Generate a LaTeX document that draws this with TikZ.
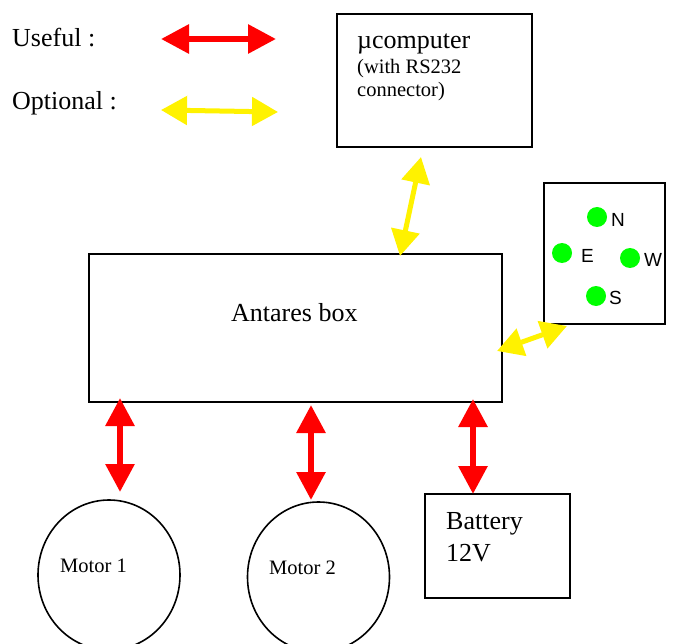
\documentclass[tikz,border=0pt]{standalone}
\usepackage{fontspec}
\setmainfont{Liberation Serif}
\setsansfont{Liberation Sans}
\usetikzlibrary{arrows.meta,shapes.geometric,positioning}

\begin{document}
\begin{tikzpicture}[x=1pt,y=-1pt,
  box/.style={draw,line width=1.6pt,rectangle,inner sep=0pt},
  motor/.style={draw,line width=1.6pt,ellipse,inner sep=0pt,minimum width=142pt,minimum height=150pt},
  bigtxt/.style={font=\fontsize{26}{30}\selectfont,inner sep=0pt,anchor=base west},
  smalltxt/.style={font=\fontsize{20.5}{24}\selectfont,inner sep=0pt,anchor=base west},
  dirtxt/.style={font=\sffamily\fontsize{19}{22}\selectfont,inner sep=0pt,anchor=base west},
  led/.style={circle,fill=green,inner sep=0pt,minimum size=20pt},
  useful/.style={red,line width=6pt,{Triangle[length=28pt,width=28pt]}-{Triangle[length=28pt,width=28pt]}},
  optional/.style={yellow,line width=5pt,{Triangle[length=26pt,width=28pt]}-{Triangle[length=26pt,width=28pt]}}
]
\useasboundingbox (0,0) rectangle (674,644);
\clip (0,0) rectangle (674,644);

% the legend
\node[bigtxt] (usefultxt) at (12,47) {Useful :};
\node[bigtxt] (optionaltxt) at (12,110) {Optional :};
\coordinate (usefulL) at (161,39);
\coordinate (usefulR) at (276,39);
\coordinate (optL) at (161,110);
\coordinate (optR) at (278,112);

% the boxes
\node[box,minimum width=195pt,minimum height=133pt] (micro) at (434.5,80.5) {};
\node[box,minimum width=413pt,minimum height=148pt] (antares) at (295.5,328) {};
\node[box,minimum width=121pt,minimum height=141pt] (compass) at (604.5,253.5) {};
\node[box,minimum width=145pt,minimum height=104pt] (battery) at (497.5,546) {};
\node[motor] (motorA) at (109,575) {};
\node[motor] (motorB) at (318.5,577) {};

% the texts
\node[bigtxt] (microtxt) at (357,49) {µcomputer};
\node[smalltxt] (microtxtA) at (357,74) {(with RS232};
\node[smalltxt] (microtxtB) at (357,97) {connector)};
\node[bigtxt] (antarestxt) at (231,321) {Antares box};
\node[bigtxt] (batterytxt) at (446,529) {Battery};
\node[bigtxt] (batterytxtB) at (446,561) {12V};
\node[smalltxt] (motorAtxt) at (60,572) {Motor 1};
\node[smalltxt] (motorBtxt) at (269,574) {Motor 2};

% the compass
\node[led] (ledN) at (597,217) {};
\node[led] (ledE) at (562,253) {};
\node[led] (ledW) at (630,258) {};
\node[led] (ledS) at (596,296) {};
\node[dirtxt] (dirN) at (611,227) {N};
\node[dirtxt] (dirE) at (581,262) {E};
\node[dirtxt] (dirW) at (644,266) {W};
\node[dirtxt] (dirS) at (609,304) {S};

% the arrow ends
\coordinate (microPort) at (421,157);
\coordinate (antaresTop) at (400,256);
\coordinate (compassPort) at (567,326);
\coordinate (antaresRight) at (497,351);
\coordinate (antaresA) at (120,398);
\coordinate (motorAtop) at (120,492);
\coordinate (antaresB) at (311,405);
\coordinate (motorBtop) at (311,500);
\coordinate (antaresC) at (473,399);
\coordinate (batteryTop) at (473,494);

% the edges
\draw[useful] (usefulL) -- (usefulR);
\draw[optional] (optL) -- (optR);
\draw[optional] (microPort) -- (antaresTop);
\draw[optional] (compassPort) -- (antaresRight);
\draw[useful] (antaresA) -- (motorAtop);
\draw[useful] (antaresB) -- (motorBtop);
\draw[useful] (antaresC) -- (batteryTop);

\end{tikzpicture}
\end{document}
